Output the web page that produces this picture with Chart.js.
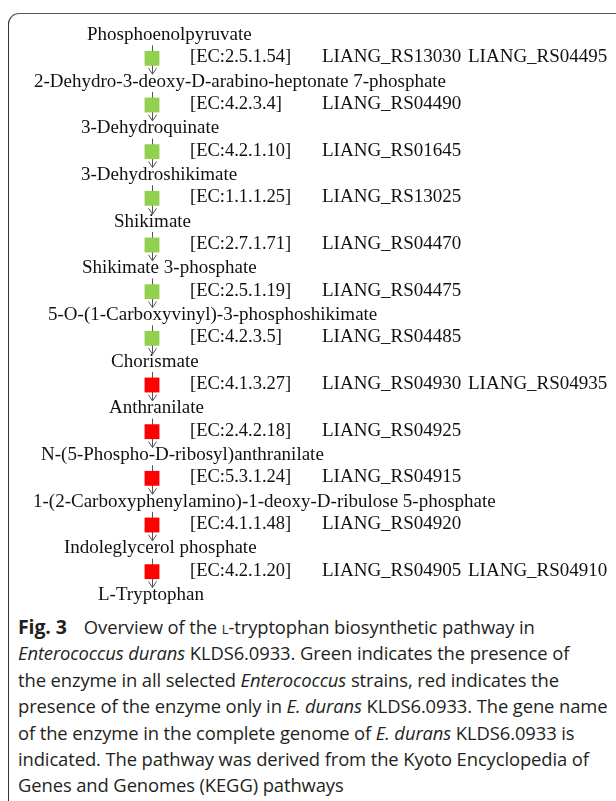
<!DOCTYPE html>
<html>
<head>
<meta charset="utf-8">
<script src="https://cdn.jsdelivr.net/npm/chart.js@4.4.1/dist/chart.umd.min.js"></script>
<style>
  html, body { margin: 0; padding: 0; background: #fff; }
  body { width: 616px; height: 801px; position: relative; overflow: hidden; }
  #frame {
    position: absolute; left: 8px; top: 13px; width: 700px; height: 900px;
    border-top: 1.5px solid #555; border-left: 1.5px solid #333;
    border-top-left-radius: 11px;
  }
  #wrap { position: absolute; left: 0; top: 0; width: 616px; height: 612px; }
  #caption {
    position: absolute; left: 18px; top: 614px;
    font-family: "Open Sans", sans-serif; font-size: 18.4px; line-height: 26.4px;
    color: #231f20; white-space: nowrap; letter-spacing: -0.1px;
  }
  #caption b { font-weight: 700; font-size: 19.5px; margin-right: 17px; }
  .sc { font-variant: small-caps; }
</style>
</head>
<body>
<div id="frame"></div>
<div id="wrap"><canvas id="pathChart"></canvas></div>
<div id="caption">
  <div><b>Fig. 3</b>Overview of the <span class="sc">l</span>-tryptophan biosynthetic pathway in</div>
  <div><i>Enterococcus durans</i> KLDS6.0933. Green indicates the presence of</div>
  <div>the enzyme in all selected <i>Enterococcus</i> strains, red indicates the</div>
  <div>presence of the enzyme only in <i>E. durans</i> KLDS6.0933. The gene name</div>
  <div>of the enzyme in the complete genome of <i>E. durans</i> KLDS6.0933 is</div>
  <div>indicated. The pathway was derived from the Kyoto Encyclopedia of</div>
  <div>Genes and Genomes (KEGG) pathways</div>
</div>
<script>
  // pathway data
  var metabolites = [
    "Phosphoenolpyruvate",
    "2-Dehydro-3-deoxy-D-arabino-heptonate 7-phosphate",
    "3-Dehydroquinate",
    "3-Dehydroshikimate",
    "Shikimate",
    "Shikimate 3-phosphate",
    "5-O-(1-Carboxyvinyl)-3-phosphoshikimate",
    "Chorismate",
    "Anthranilate",
    "N-(5-Phospho-D-ribosyl)anthranilate",
    "1-(2-Carboxyphenylamino)-1-deoxy-D-ribulose 5-phosphate",
    "Indoleglycerol phosphate",
    "L-Tryptophan"
  ];
  var ecNumbers = [
    "[EC:2.5.1.54]", "[EC:4.2.3.4]", "[EC:4.2.1.10]", "[EC:1.1.1.25]",
    "[EC:2.7.1.71]", "[EC:2.5.1.19]", "[EC:4.2.3.5]", "[EC:4.1.3.27]",
    "[EC:2.4.2.18]", "[EC:5.3.1.24]", "[EC:4.1.1.48]", "[EC:4.2.1.20]"
  ];
  var genes = [
    ["LIANG_RS13030", "LIANG_RS04495"],
    ["LIANG_RS04490"],
    ["LIANG_RS01645"],
    ["LIANG_RS13025"],
    ["LIANG_RS04470"],
    ["LIANG_RS04475"],
    ["LIANG_RS04485"],
    ["LIANG_RS04930", "LIANG_RS04935"],
    ["LIANG_RS04925"],
    ["LIANG_RS04915"],
    ["LIANG_RS04920"],
    ["LIANG_RS04905", "LIANG_RS04910"]
  ];
  // "all" = every selected Enterococcus strain, "only" = only E. durans KLDS6.0933
  var presence = ["all", "all", "all", "all", "all", "all", "all",
                  "only", "only", "only", "only", "only"];

  // layout (pixels in the x scale)
  var PATH_X = 152;
  var EC_X = 190;
  var GENE_X = [322, 468];
  var labelLeft = [87, 34, 81, 81, 114, 82, 48, 111, 109, 41, 33, 64, 98];
  var colors = { all: "#92d050", only: "#ff0000" };
  var FONT = '19px "Liberation Serif", "Times New Roman", serif';
  var EC_FONT = '18.5px "Liberation Serif", "Times New Roman", serif';

  var points = ecNumbers.map(function (ec, i) { return { x: PATH_X, y: i + 0.5 }; });

  var pathwayPlugin = {
    id: "pathway",
    beforeDatasetsDraw: function (chart) {
      var ctx = chart.ctx, x = chart.scales.x, y = chart.scales.y;
      var px = Math.round(x.getPixelForValue(PATH_X)) + 0.5;
      ctx.save();
      ctx.strokeStyle = "#555";
      ctx.lineWidth = 1;
      for (let i = 0; i < ecNumbers.length; i++) {
        let top = y.getPixelForValue(i + 0.22);
        let tip = y.getPixelForValue(i + 0.84);
        ctx.beginPath();
        ctx.moveTo(px, top);
        ctx.lineTo(px, tip);
        ctx.stroke();
        ctx.beginPath();
        ctx.moveTo(px - 4, tip - 6);
        ctx.lineTo(px, tip);
        ctx.lineTo(px + 4, tip - 6);
        ctx.stroke();
      }
      ctx.restore();
    },
    afterDatasetsDraw: function (chart) {
      var ctx = chart.ctx, x = chart.scales.x, y = chart.scales.y;
      ctx.save();
      ctx.fillStyle = "#111";
      ctx.textBaseline = "middle";
      ctx.textAlign = "left";
      ctx.font = FONT;
      metabolites.forEach(function (m, i) {
        ctx.fillText(m, x.getPixelForValue(labelLeft[i]), y.getPixelForValue(i));
      });
      ecNumbers.forEach(function (ec, i) {
        let py = y.getPixelForValue(i + 0.5) - 1;
        ctx.font = EC_FONT;
        ctx.fillText(ec, x.getPixelForValue(EC_X), py);
        ctx.font = FONT;
        genes[i].forEach(function (g, k) {
          ctx.fillText(g, x.getPixelForValue(GENE_X[k]), py);
        });
      });
      ctx.restore();
    }
  };

  function drawChart() {
    new Chart("pathChart", {
      type: "scatter",
      data: {
        datasets: [{
          data: points,
          pointStyle: "rect",
          pointRadius: 10.5,
          pointHoverRadius: 10.5,
          borderWidth: 0,
          backgroundColor: presence.map(function (p) { return colors[p]; })
        }]
      },
      options: {
        responsive: true,
        maintainAspectRatio: false,
        animation: false,
        layout: { padding: 0, autoPadding: false },
        plugins: { legend: { display: false }, tooltip: { enabled: false } },
        scales: {
          x: { type: "linear", min: 0, max: 616, display: false },
          y: { type: "linear", min: -0.75, max: 12.364, reverse: true, display: false }
        }
      },
      plugins: [pathwayPlugin]
    });
  }

  document.fonts.load(FONT).then(drawChart, drawChart);
</script>
</body>
</html>
